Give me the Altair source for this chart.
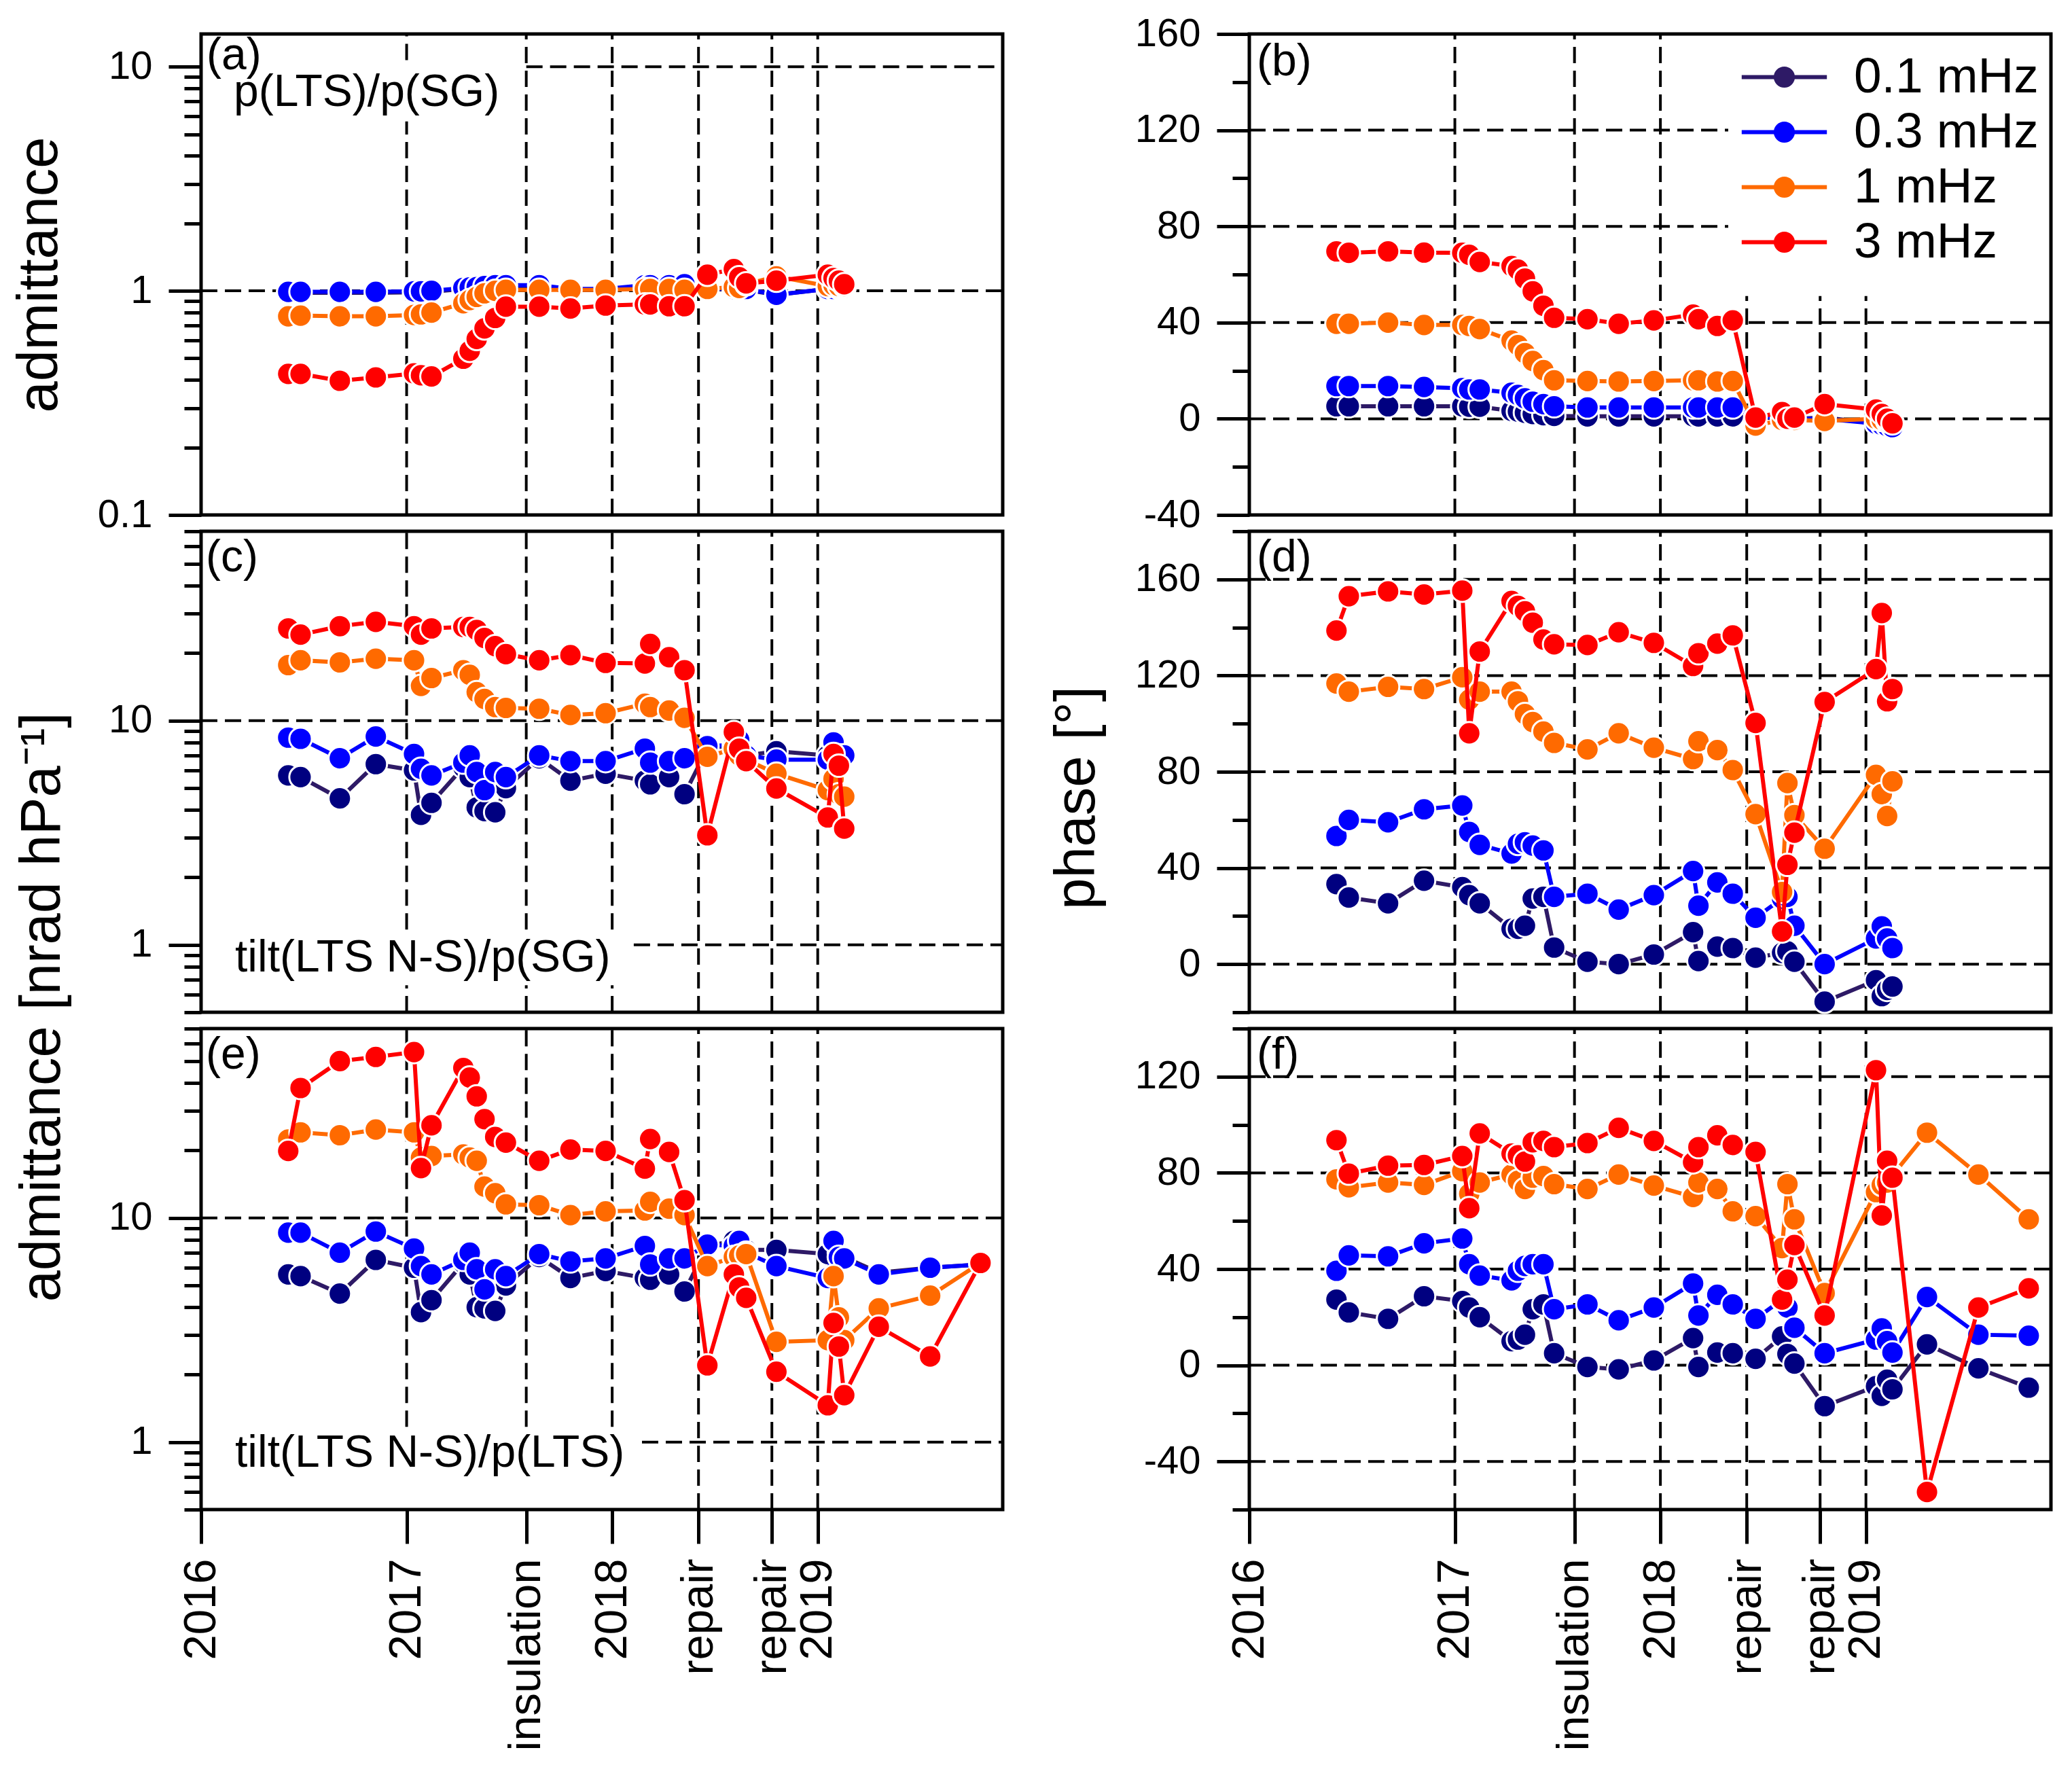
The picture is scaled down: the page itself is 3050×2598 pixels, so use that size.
import altair as alt
import pandas as pd

FONT = "Liberation Sans"

SERIES = ["0.1 mHz", "0.3 mHz", "1 mHz", "3 mHz"]
LINE_COLORS = ["#2e1a66", "#0000ff", "#ff6a00", "#ff0000"]
POINT_COLORS = ["#000080", "#0000ff", "#ff6a00", "#ff0000"]

# analysis epochs (decimal years)
T = [2016.424, 2016.484, 2016.675, 2016.850, 2017.036, 2017.070, 2017.121,
     2017.276, 2017.307, 2017.341, 2017.379, 2017.431, 2017.483, 2017.645,
     2017.797, 2017.968, 2018.159, 2018.185, 2018.277, 2018.352, 2018.463,
     2018.592, 2018.618, 2018.652, 2018.799, 2019.049, 2019.077, 2019.103,
     2019.129, 2019.297, 2019.547, 2019.792]

X_TICKS = [2016.0, 2017.0, 2017.582, 2018.0, 2018.42, 2018.777, 2019.0]
X_LABELS = ["2016", "2017", "insulation", "2018", "repair", "repair", "2019"]
X_MIN, X_MAX = 2016.0, 2019.9

# (a) p(LTS)/p(SG), admittance
a_01 = [0.98, 0.98, 0.98, 0.98, 0.985, 0.985, 0.99, 1.02, 1.025, 1.03, 1.04, 1.05, 1.05, 1.05,
        1.01, 1.01, 1.05, 1.05, 1.05, 1.06, 1.02, 1.01, 1.01, 1.01, 0.96, 1.02, 1.02, 1.02, 1.02]
a_03 = [0.99, 0.99, 0.99, 0.99, 0.995, 0.995, 1.0, 1.03, 1.035, 1.04, 1.05, 1.06, 1.06, 1.06,
        1.02, 1.02, 1.06, 1.06, 1.06, 1.07, 1.03, 1.02, 1.02, 1.02, 0.96, 1.02, 1.02, 1.03, 1.03]
a_1 = [0.77, 0.775, 0.77, 0.77, 0.78, 0.785, 0.80, 0.88, 0.91, 0.94, 0.975, 1.0, 1.01, 1.01,
       1.01, 1.01, 1.02, 1.02, 1.02, 1.01, 1.02, 1.04, 1.03, 1.07, 1.16, 1.05, 1.06, 1.05, 1.05]
a_3 = [0.426, 0.426, 0.397, 0.411, 0.428, 0.42, 0.415, 0.498, 0.54, 0.61, 0.68, 0.757, 0.85, 0.85,
       0.834, 0.86, 0.87, 0.87, 0.854, 0.854, 1.18, 1.25, 1.15, 1.08, 1.11, 1.18, 1.14, 1.11, 1.07]

# (b) p(LTS)/p(SG), phase
b_01 = [5.2, 5.2, 5.2, 5.2, 5.2, 5.0, 5.0, 3.3, 3.0, 2.5, 2.0, 1.5, 1.2, 1.0,
        1.0, 1.0, 1.0, 1.0, 1.0, 1.0, 0.5, 0.3, 0.2, 0.0, 0.5, -2.0, -2.5, -3.0, -3.0]
b_03 = [13.6, 13.6, 13.6, 13.2, 12.7, 12.2, 12.2, 10.8, 9.9, 8.5, 7.1, 6.1, 5.2, 4.7,
        4.7, 4.7, 4.7, 4.7, 4.7, 4.7, 0.9, 0.5, 0.3, 0.0, 0.0, -2.0, -2.5, -3.0, -3.5]
b_1 = [39.5, 39.5, 40.0, 39.0, 39.0, 38.6, 37.3, 32.5, 30.6, 27.3, 24.0, 20.2, 16.0, 15.7,
       15.5, 15.7, 16.0, 16.0, 15.5, 15.7, -2.8, -0.5, -0.5, -0.5, -0.9, 0.0, -0.5, -1.0, -1.5]
b_3 = [69.6, 69.0, 69.6, 69.1, 69.0, 68.2, 65.2, 63.5, 62.0, 58.3, 53.0, 47.0, 42.0, 41.4,
       39.5, 40.9, 43.3, 41.4, 38.6, 40.9, 0.5, 2.8, 0.0, 0.5, 6.1, 3.8, 2.0, 0.0, -1.9]

# (c) tilt(LTS N-S)/p(SG), admittance
c_01 = [5.7, 5.6, 4.5, 6.4, 6.0, 3.8, 4.3, 6.2, 5.6, 4.1, 3.95, 3.9, 5.0, 6.8,
        5.4, 5.8, 5.4, 5.2, 5.6, 4.7, 7.5, 7.8, 7.5, 7.0, 7.3, 7.0, 7.0, 6.9, 7.0]
c_03 = [8.4, 8.3, 6.8, 8.5, 7.1, 6.1, 5.7, 6.5, 7.0, 5.9, 4.9, 5.9, 5.6, 7.0,
        6.6, 6.6, 7.5, 6.5, 6.6, 6.8, 7.7, 7.8, 8.2, 7.0, 6.7, 6.7, 8.0, 7.0, 7.0]
c_1 = [17.7, 18.6, 18.2, 18.9, 18.6, 14.3, 15.5, 16.8, 16.0, 13.4, 12.5, 11.5, 11.4, 11.3,
       10.6, 10.8, 11.9, 11.5, 11.1, 10.3, 6.9, 7.5, 7.0, 6.7, 5.8, 4.9, 5.5, 4.7, 4.58]
c_3 = [25.8, 24.2, 26.4, 27.6, 26.4, 24.2, 25.8, 26.2, 26.2, 25.4, 23.4, 21.5, 19.8, 18.6,
       19.6, 18.1, 18.0, 22.0, 19.2, 16.8, 3.08, 8.9, 7.5, 6.6, 4.98, 3.7, 7.1, 6.3, 3.3]

# (d) tilt(LTS N-S)/p(SG), phase
d_01 = [33.3, 27.7, 25.3, 34.7, 32.0, 28.7, 25.3, 14.7, 14.7, 16.0, 27.3, 28.0, 6.9, 1.0,
        0.0, 4.0, 13.3, 1.3, 7.3, 6.7, 2.7, 4.7, 5.3, 1.0, -15.6, -6.7, -13.3, -10.7, -9.3]
d_03 = [53.3, 60.0, 59.0, 64.4, 66.0, 55.0, 49.6, 46.0, 50.0, 50.7, 49.3, 47.3, 28.0, 29.3,
        22.7, 28.7, 38.7, 24.3, 34.0, 29.3, 19.3, 27.3, 28.0, 16.0, 0.0, 10.7, 15.7, 10.7, 6.7]
d_1 = [116.7, 113.3, 115.3, 114.4, 119.3, 110.0, 113.3, 113.3, 109.3, 104.0, 100.7, 96.7, 92.0, 89.3,
       96.0, 90.0, 85.3, 92.7, 89.0, 80.7, 62.4, 30.0, 75.3, 62.0, 48.0, 78.7, 70.7, 61.6, 76.0]
d_3 = [138.7, 153.0, 155.0, 153.7, 155.3, 96.0, 130.0, 151.0, 149.0, 146.7, 142.0, 135.0, 133.0, 132.7,
       138.0, 133.6, 124.0, 129.3, 133.3, 136.7, 100.3, 13.6, 41.3, 54.7, 109.0, 122.7, 146.0, 109.3, 114.4]

# (e) tilt(LTS N-S)/p(LTS), admittance
e_01 = [5.6, 5.5, 4.6, 6.5, 6.0, 3.8, 4.3, 6.3, 5.6, 4.0, 3.95, 3.85, 5.0, 6.7, 5.4, 5.8,
        5.4, 5.3, 5.6, 4.7, 7.5, 7.9, 7.6, 7.2, 7.2, 6.9, 7.9, 7.0, 6.7, 5.7, 6.0, 6.2]
e_03 = [8.6, 8.6, 7.0, 8.7, 7.3, 6.1, 5.6, 6.5, 7.0, 5.9, 4.8, 5.9, 5.5, 6.9, 6.4, 6.6,
        7.5, 6.2, 6.6, 6.6, 7.6, 7.5, 7.9, 7.0, 6.1, 5.4, 7.9, 6.7, 6.6, 5.6, 6.0, 6.2]
e_1 = [22.4, 24.1, 23.4, 24.8, 24.1, 18.6, 18.9, 19.2, 18.6, 18.0, 13.8, 12.9, 11.5, 11.4, 10.3, 10.7,
       10.8, 11.8, 11.0, 10.3, 6.1, 6.7, 6.8, 6.9, 2.8, 2.85, 5.5, 3.6, 2.85, 3.95, 4.5, 6.3]
e_3 = [19.9, 38.0, 50.1, 52.3, 55.0, 16.7, 25.9, 46.7, 42.3, 34.9, 27.6, 23.0, 21.7, 18.0, 20.2, 19.9,
       16.6, 22.5, 19.7, 12.0, 2.2, 5.6, 4.9, 4.4, 2.06, 1.46, 3.4, 2.67, 1.62, 3.27, 2.41, 6.3]

# (f) tilt(LTS N-S)/p(LTS), phase
f_01 = [27.3, 22.0, 19.3, 28.7, 26.7, 24.0, 20.0, 10.0, 10.7, 12.7, 23.3, 25.3, 5.0, -0.7, -1.7, 2.0,
        11.3, -0.7, 5.3, 5.0, 2.7, 12.0, 4.7, 0.7, -17.0, -8.7, -12.7, -6.0, -10.0, 8.7, -1.3, -9.3]
f_03 = [39.3, 45.7, 45.3, 50.7, 52.7, 42.0, 37.3, 35.3, 39.3, 41.3, 42.0, 42.0, 23.3, 25.3, 18.7, 24.0,
        34.0, 20.7, 29.3, 25.3, 19.3, 27.3, 24.0, 15.6, 5.0, 10.7, 15.3, 10.0, 5.3, 28.4, 12.7, 12.3]
f_1 = [77.3, 74.0, 76.0, 75.0, 80.7, 71.3, 76.0, 79.3, 76.7, 73.3, 78.0, 78.7, 75.3, 73.3, 79.3, 74.7,
       70.0, 76.0, 73.3, 64.0, 62.0, 48.7, 75.3, 60.7, 30.0, 72.0, 75.0, 76.0, 79.0, 96.7, 79.3, 60.7]
f_3 = [93.6, 79.7, 83.0, 83.3, 87.0, 65.3, 96.4, 88.0, 87.3, 84.7, 92.7, 93.3, 90.7, 92.4, 98.7, 93.3,
       84.4, 90.7, 95.6, 91.6, 88.7, 27.3, 35.6, 50.0, 20.7, 122.7, 62.3, 85.0, 78.0, -52.7, 24.0, 32.0]

W, H = 1180, 708
DASH = dict(color="black", strokeDash=[24, 11], strokeWidth=4)


def ring(r):
    return f"M{r},0A{r},{r},0,1,1,-{r},0A{r},{r},0,1,1,{r},0Z"


# line segment with a filled dot, drawn with strokes only
LEGEND_SYMBOL = "M-1.9,0H1.9" + "".join(ring(r) for r in (0.38, 0.27, 0.16, 0.06))

LEGEND = alt.Legend(orient="none", legendX=2294, legendY=27, title=None,
                    symbolType=LEGEND_SYMBOL, symbolSize=4356, symbolStrokeWidth=6,
                    labelFontSize=73, labelFont=FONT, labelColor="black", labelLimit=0,
                    labelOffset=66, rowPadding=7, padding=0)


def x_label_expr():
    parts = [f"datum.value < {t + 0.05} ? '{lab}' : " for t, lab in zip(X_TICKS[:-1], X_LABELS[:-1])]
    return "".join(parts) + f"'{X_LABELS[-1]}'"


def frame(cols):
    rows = []
    for name, vals in zip(SERIES, cols):
        for t, v in zip(T, vals):
            if v is not None:
                rows.append({"t": t, "v": v, "series": name})
    return pd.DataFrame(rows)


def panel(cols, yscale, major, minor, vgrid, hgrid, texts, title=None, bottom=False):
    df = frame(cols)
    xs = alt.Scale(domain=[X_MIN, X_MAX], nice=False, zero=False)

    x_axis = None
    if bottom:
        x_axis = alt.Axis(values=X_TICKS, labelExpr=x_label_expr(), labelAngle=270,
                          labelFontSize=67, labelPadding=22, tickSize=50, tickWidth=5,
                          domain=False, grid=False, title=None, labelFlush=False,
                          labelOverlap=False, labelLimit=0, orient="bottom")

    y_kw = dict(values=major, labelExpr="'' + datum.value", tickSize=48, tickWidth=5,
                domain=False, grid=False, labelFontSize=58, labelPadding=24,
                labelOverlap=False, labelFlush=False, orient="left")
    if title:
        y_kw.update(title=title[0], titleX=title[1], titleY=title[2], titleAngle=270,
                    titleAlign="center", titleBaseline="alphabetic", titleFontSize=83,
                    titleFontWeight="normal")
    else:
        y_kw.update(title=None)
    main_axis = alt.Axis(**y_kw)
    minor_axis = alt.Axis(values=minor, labels=False, tickSize=25, tickWidth=5, domain=False,
                          grid=False, title=None, orient="left")

    vg = alt.Chart(pd.DataFrame(vgrid, columns=["x", "y1", "y2"])).mark_rule(**DASH).encode(
        x=alt.X("x:Q", scale=xs, axis=x_axis),
        y=alt.Y("y1:Q", scale=yscale, axis=None),
        y2="y2:Q",
    )
    hg = alt.Chart(pd.DataFrame(hgrid, columns=["y", "x1", "x2"])).mark_rule(**DASH).encode(
        y=alt.Y("y:Q", scale=yscale, axis=None),
        x=alt.X("x1:Q", scale=xs, axis=x_axis),
        x2="x2:Q",
    )
    layers = [vg, hg]

    base = alt.Chart(df)
    for i, name in enumerate(SERIES):
        sub = base.transform_filter(alt.datum.series == name)
        line = sub.mark_line(strokeWidth=6).encode(
            x=alt.X("t:Q", scale=xs, axis=x_axis),
            y=alt.Y("v:Q", scale=yscale, axis=main_axis if i == 0 else None),
            color=alt.Color("series:N", scale=alt.Scale(domain=SERIES, range=LINE_COLORS),
                            legend=LEGEND),
        )
        pts = sub.mark_circle(size=1100, opacity=1, stroke="white", strokeWidth=3).encode(
            x=alt.X("t:Q", scale=xs, axis=x_axis),
            y=alt.Y("v:Q", scale=yscale, axis=None),
            fill=alt.Fill("series:N", scale=alt.Scale(domain=SERIES, range=POINT_COLORS),
                          legend=None),
        )
        layers += [line, pts]

    for txt, px, py, size in texts:
        layers.append(
            alt.Chart(pd.DataFrame({"label": [txt]})).mark_text(
                font=FONT, fontSize=size, align="left", baseline="alphabetic", color="black"
            ).encode(x=alt.value(px), y=alt.value(py), text="label:N")
        )

    layers.append(
        base.mark_point(opacity=0).encode(
            x=alt.X("t:Q", scale=xs, axis=x_axis),
            y=alt.Y("v:Q", scale=yscale, axis=minor_axis),
        )
    )
    return alt.layer(*layers).resolve_axis(y="independent").properties(width=W, height=H)


def full(xs_list, lo, hi):
    return [(x, lo, hi) for x in xs_list]


EV = X_TICKS[1:]
LOG_MINOR_A = [0.2, 0.3, 0.4, 0.5, 0.6, 0.7, 0.8, 0.9, 2, 3, 4, 5, 6, 7, 8, 9]
LOG_MINOR_C = [0.5, 0.6, 0.7, 0.8, 0.9, 2, 3, 4, 5, 6, 7, 8, 9, 20, 30, 40, 50, 60, 70]

pa = panel(
    [a_01, a_03, a_1, a_3],
    alt.Scale(type="log", domain=[0.1, 14], nice=False),
    [0.1, 1, 10], LOG_MINOR_A,
    [(2017.0, 0.1, 5.7), (2017.0, 10.7, 14)] + full(EV[1:], 0.1, 14),
    [(1, X_MIN, X_MAX), (10, 2017.582, X_MAX)],
    [("(a)", 8, 52, 66), ("p(LTS)/p(SG)", 48, 106, 66)],
    title=("admittance", -213, 354),
)
pb = panel(
    [b_01, b_03, b_1, b_3],
    alt.Scale(domain=[-40, 160], nice=False, zero=False),
    [-40, 0, 40, 80, 120, 160], [-20, 20, 60, 100, 140],
    full(EV[:3], -40, 160) + full(EV[3:], -40, 51),
    [(0, X_MIN, X_MAX), (40, X_MIN, X_MAX), (80, X_MIN, 2018.33), (120, X_MIN, 2018.33)],
    [("(b)", 11, 61, 66)],
)
pc = panel(
    [c_01, c_03, c_1, c_3],
    alt.Scale(type="log", domain=[0.5, 70], nice=False),
    [1, 10], LOG_MINOR_C,
    full(EV[:3], 1.17, 70) + full(EV[:3], 0.5, 0.66) + full(EV[3:], 0.5, 70),
    [(10, X_MIN, X_MAX), (1, 2018.105, X_MAX)],
    [("(c)", 7, 59, 66), ("tilt(LTS N-S)/p(SG)", 50, 648, 66)],
    title=("admittance [nrad hPa\u207b\u00b9]", -209, 700),
)
pd_ = panel(
    [d_01, d_03, d_1, d_3],
    alt.Scale(domain=[-20, 180], nice=False, zero=False),
    [0, 40, 80, 120, 160], [-20, 20, 60, 100, 140, 180],
    full(EV, -20, 180),
    [(v, X_MIN, X_MAX) for v in [0, 40, 80, 120, 160]],
    [("(d)", 11, 59, 66)],
    title=("phase [\u00b0]", -229, 392),
)
pe = panel(
    [e_01, e_03, e_1, e_3],
    alt.Scale(type="log", domain=[0.5, 70], nice=False),
    [1, 10], LOG_MINOR_C,
    full(EV[:3], 1.17, 70) + full(EV[3:], 0.5, 70),
    [(10, X_MIN, X_MAX), (1, 2018.145, X_MAX)],
    [("(e)", 7, 59, 66), ("tilt(LTS N-S)/p(LTS)", 50, 645, 66)],
    bottom=True,
)
pf = panel(
    [f_01, f_03, f_1, f_3],
    alt.Scale(domain=[-60, 140], nice=False, zero=False),
    [-40, 0, 40, 80, 120], [-60, -20, 20, 60, 100, 140],
    full(EV, -60, 140),
    [(v, X_MIN, X_MAX) for v in [-40, 0, 40, 80, 120]],
    [("(f)", 11, 59, 66)],
    bottom=True,
)

chart = (
    alt.concat(pa, pb, pc, pd_, pe, pf, columns=2,
               spacing={"row": 24, "column": 363}, bounds="flush")
    .properties(padding={"left": 6, "top": 10, "right": 5, "bottom": 5})
    .configure_view(stroke="black", strokeWidth=5)
    .configure_axis(labelFont=FONT, titleFont=FONT, labelColor="black",
                    tickColor="black", titleColor="black")
    .configure_legend(labelFont=FONT)
)

chart.save("out.html", embed_options={"renderer": "svg", "actions": False})
